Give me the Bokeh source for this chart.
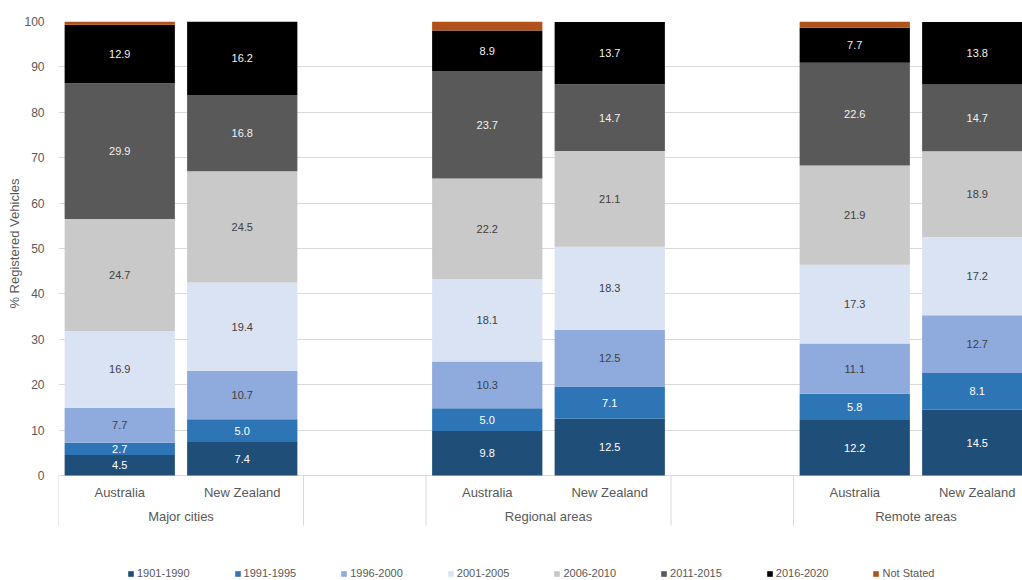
from bokeh.plotting import figure
from bokeh.models import ColumnDataSource, Range1d, FixedTicker, Legend, LegendItem, Title
from bokeh.embed import file_html
from bokeh.resources import INLINE
from bokeh.core.properties import value

# ---------------- data ----------------
groups = ["Major cities", "Regional areas", "Remote areas"]
countries = ["Australia", "New Zealand"]
series = ["1901-1990", "1991-1995", "1996-2000", "2001-2005",
          "2006-2010", "2011-2015", "2016-2020", "Not Stated"]

# order of bars: Major(Aus, NZ), Regional(Aus, NZ), Remote(Aus, NZ)
v_1901_1990 = [4.5, 7.4, 9.8, 12.5, 12.2, 14.5]
v_1991_1995 = [2.7, 5.0, 5.0, 7.1, 5.8, 8.1]
v_1996_2000 = [7.7, 10.7, 10.3, 12.5, 11.1, 12.7]
v_2001_2005 = [16.9, 19.4, 18.1, 18.3, 17.3, 17.2]
v_2006_2010 = [24.7, 24.5, 22.2, 21.1, 21.9, 18.9]
v_2011_2015 = [29.9, 16.8, 23.7, 14.7, 22.6, 14.7]
v_2016_2020 = [12.9, 16.2, 8.9, 13.7, 7.7, 13.8]
v_not_stated = [0.7, 0.0, 2.0, 0.0, 1.4, 0.0]

values = [v_1901_1990, v_1991_1995, v_1996_2000, v_2001_2005,
          v_2006_2010, v_2011_2015, v_2016_2020, v_not_stated]

colors = ["#1f4e79", "#2e75b6", "#8faadc", "#dae3f3",
          "#c9c9c9", "#595959", "#000000", "#b0521a"]
label_colors = ["#ffffff", "#ffffff", "#404040", "#404040",
                "#404040", "#f2f2f2", "#f2f2f2", None]

FONT = "Liberation Sans"
GRAY = "#595959"
LIGHT = "#d9d9d9"

# ---------------- layout ----------------
slots_per_group = 3
xs = [slots_per_group * g + k + 0.5 for g in range(len(groups)) for k in range(len(countries))]

W, H = 1022, 580
LEFT, TOP = 58, 21
px_per_unit = 4.54
slot_px = 122.5
ymin = 100 - (H - TOP) / px_per_unit
xmax = (W - LEFT) / slot_px

p = figure(width=W, height=H, output_backend="svg", toolbar_location=None,
           x_range=Range1d(0, xmax), y_range=Range1d(ymin, 100),
           min_border_left=LEFT, min_border_right=0, min_border_top=TOP, min_border_bottom=0)
p.outline_line_color = None
p.background_fill_color = "white"
p.xgrid.grid_line_color = None
p.ygrid.grid_line_color = LIGHT
p.ygrid.ticker = FixedTicker(ticks=list(range(0, 101, 10)))
p.xaxis.visible = False

# y axis
p.yaxis.ticker = FixedTicker(ticks=list(range(0, 101, 10)))
p.yaxis.axis_line_color = None
p.yaxis.major_tick_line_color = None
p.yaxis.minor_tick_line_color = None
p.yaxis.major_label_standoff = 8
p.yaxis.major_label_text_font = FONT
p.yaxis.major_label_text_font_size = "12px"
p.yaxis.major_label_text_color = GRAY

# y axis title, placed from the top so it is centred on the 0-100 part
ytitle = Title(text="% Registered Vehicles", align="right", offset=157,
               text_font=FONT, text_font_size="13px", text_font_style="normal",
               text_color=GRAY, standoff=0)
p.add_layout(ytitle, "left")

# category separators below the baseline
bounds = [0]
for g in range(len(groups)):
    start = slots_per_group * g
    bounds += [start + len(countries)]
    if g < len(groups) - 1:
        bounds += [start + slots_per_group]
p.segment(x0=bounds, x1=bounds, y0=[0] * len(bounds), y1=[-11] * len(bounds),
          line_color=LIGHT, line_width=1)

# ---------------- bars ----------------
keys = [f"s{i}" for i in range(len(series))]
data = {"x": xs}
for k, v in zip(keys, values):
    data[k] = v
src = ColumnDataSource(data)
renderers = p.vbar_stack(keys, x="x", width=0.9, color=colors, line_color=None, source=src)

# value labels
tx, ty, tt, tc = [], [], [], []
for j in range(len(xs)):
    bottom = 0.0
    for i, v in enumerate(values):
        val = v[j]
        if label_colors[i] is not None and val > 0:
            tx.append(xs[j])
            ty.append(bottom + val / 2)
            tt.append(f"{val:.1f}")
            tc.append(label_colors[i])
        bottom += val
tsrc = ColumnDataSource(dict(x=tx, y=ty, text=tt, color=tc))
p.text(x="x", y="y", text="text", text_color="color", source=tsrc,
       text_align="center", text_baseline="middle",
       text_font=value(FONT), text_font_size="11px")

# category & group labels
cx, ct, gx, gt = [], [], [], []
for g, gname in enumerate(groups):
    for k, c in enumerate(countries):
        cx.append(slots_per_group * g + k + 0.5)
        ct.append(c)
    gx.append(slots_per_group * g + len(countries) / 2)
    gt.append(gname)
p.text(x=cx, y=[-3.7] * len(cx), text=ct, text_align="center", text_baseline="middle",
       text_font=value(FONT), text_font_size="13px", text_color=GRAY)
p.text(x=gx, y=[-9.0] * len(gx), text=gt, text_align="center", text_baseline="middle",
       text_font=value(FONT), text_font_size="13px", text_color=GRAY)

# legend
items = [LegendItem(label=s, renderers=[r]) for s, r in zip(series, renderers)]
legend = Legend(items=items, orientation="horizontal", location=(69, 1),
                glyph_width=7, glyph_height=7, label_standoff=3, spacing=44,
                padding=0, margin=0, border_line_color=None, background_fill_alpha=0,
                label_text_font=FONT, label_text_font_size="11px",
                label_text_color=GRAY, label_height=12)
p.add_layout(legend, "center")

open("out.html", "w").write(file_html(p, INLINE))
